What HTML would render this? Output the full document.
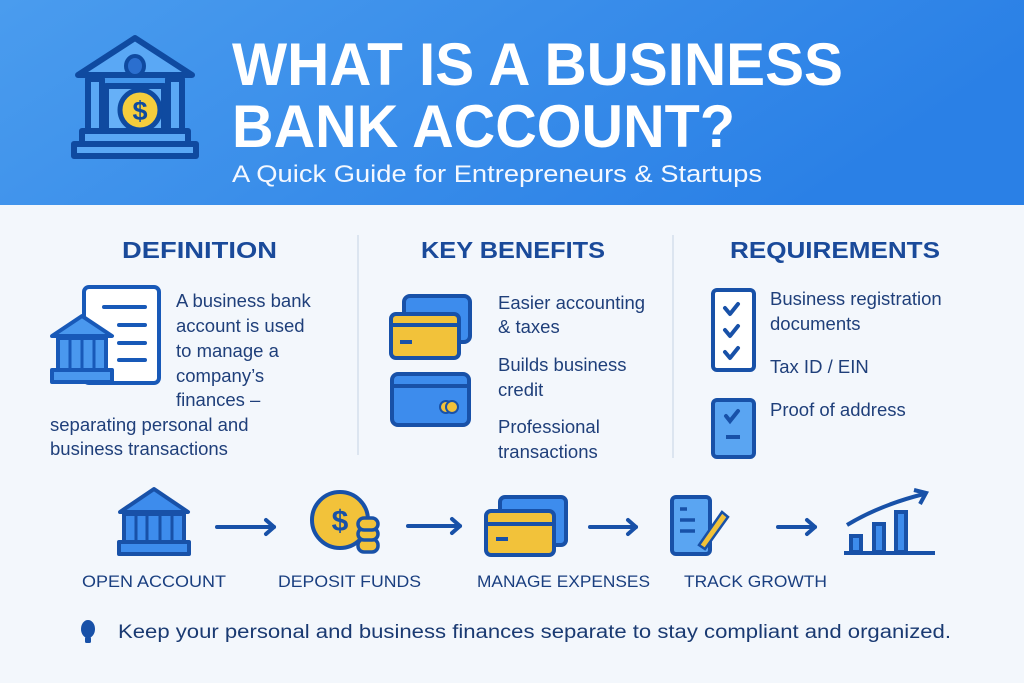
<!DOCTYPE html>
<html><head><meta charset="utf-8"><style>
html,body{margin:0;padding:0;width:1024px;height:683px;overflow:hidden;background:#f3f7fc}
svg{display:block}
text{font-family:"Liberation Sans",sans-serif}
</style></head><body>
<svg width="1024" height="683" viewBox="0 0 1024 683" xmlns="http://www.w3.org/2000/svg">
<defs>
<linearGradient id="hg" x1="0" y1="0" x2="1" y2="0.3">
<stop offset="0" stop-color="#4a9cee"/><stop offset="1" stop-color="#2a80e6"/>
</linearGradient>
</defs>
<rect x="0" y="0" width="1024" height="683" fill="#f3f7fc"/>
<rect x="0" y="0" width="1024" height="205" fill="url(#hg)"/>

<!-- header bank icon -->
<g stroke="#0f4aa0" stroke-width="6" stroke-linejoin="round" fill="#5aa8f5">
<path d="M78 75 L135 38 L192 75 Z"/>
<rect x="88" y="78" width="94" height="0" />
<rect x="88" y="79" width="14" height="52"/>
<rect x="168" y="79" width="14" height="52"/>
<rect x="106" y="86" width="58" height="45" fill="#66b0f7"/>
<rect x="82" y="131" width="106" height="13"/>
<rect x="74" y="144" width="122" height="12"/>
</g>
<ellipse cx="135" cy="66" rx="9" ry="10" fill="#2b6fcf" stroke="#0f4aa0" stroke-width="4"/>
<circle cx="140" cy="110" r="20" fill="#f5cd3c" stroke="#0f4aa0" stroke-width="5"/>
<text x="140" y="120" font-size="27" font-weight="bold" fill="#0f4aa0" text-anchor="middle">$</text>

<text x="232" y="85" font-size="60" font-weight="bold" fill="#fff" textLength="611" lengthAdjust="spacingAndGlyphs">WHAT IS A BUSINESS</text>
<text x="232" y="147" font-size="60" font-weight="bold" fill="#fff" textLength="503" lengthAdjust="spacingAndGlyphs">BANK ACCOUNT?</text>
<text x="232" y="182" font-size="24" fill="#f4f8ff" textLength="530" lengthAdjust="spacingAndGlyphs">A Quick Guide for Entrepreneurs &amp; Startups</text>

<!-- dividers -->
<line x1="358" y1="235" x2="358" y2="455" stroke="#d5dfec" stroke-width="1.5"/>
<line x1="673" y1="235" x2="673" y2="458" stroke="#d5dfec" stroke-width="1.5"/>

<g font-weight="bold" fill="#1a4a9a" font-size="23">
<text x="122" y="258" textLength="155" lengthAdjust="spacingAndGlyphs">DEFINITION</text>
<text x="421" y="258" textLength="184" lengthAdjust="spacingAndGlyphs">KEY BENEFITS</text>
<text x="730" y="258" textLength="210" lengthAdjust="spacingAndGlyphs">REQUIREMENTS</text>
</g>

<!-- definition icon -->
<rect x="84" y="287" width="75" height="96" rx="5" fill="#fff" stroke="#1859b8" stroke-width="4"/>
<g stroke="#1859b8" stroke-width="4" stroke-linecap="round">
<line x1="104" y1="307" x2="145" y2="307"/><line x1="119" y1="325" x2="145" y2="325"/>
<line x1="119" y1="343" x2="145" y2="343"/><line x1="119" y1="360" x2="145" y2="360"/>
</g>
<g stroke="#1859b8" stroke-width="4" stroke-linejoin="round" fill="#4a98ee">
<path d="M52 336 L82 316 L112 336 Z"/>
<rect x="58" y="338" width="48" height="32"/>
<rect x="52" y="370" width="60" height="12"/>
</g>
<g stroke="#1859b8" stroke-width="3"><line x1="70" y1="340" x2="70" y2="368"/><line x1="82" y1="340" x2="82" y2="368"/><line x1="94" y1="340" x2="94" y2="368"/></g>

<g fill="#1f3f7a" font-size="18.5">
<text x="176" y="307">A business bank</text>
<text x="176" y="332">account is used</text>
<text x="176" y="357">to manage a</text>
<text x="176" y="382">company’s</text>
<text x="176" y="406">finances –</text>
<text x="50" y="431">separating personal and</text>
<text x="50" y="455">business transactions</text>

<text x="498" y="309">Easier accounting</text>
<text x="498" y="333">&amp; taxes</text>
<text x="498" y="371">Builds business</text>
<text x="498" y="396">credit</text>
<text x="498" y="433">Professional</text>
<text x="498" y="458">transactions</text>

<text x="770" y="305">Business registration</text>
<text x="770" y="330">documents</text>
<text x="770" y="373">Tax ID / EIN</text>
<text x="770" y="416">Proof of address</text>
</g>

<!-- benefit cards -->
<rect x="404" y="296" width="66" height="46" rx="6" fill="#3d8ced" stroke="#1851a8" stroke-width="4"/>
<rect x="391" y="314" width="68" height="44" rx="5" fill="#f2c23a" stroke="#1851a8" stroke-width="4"/>
<line x1="391" y1="325" x2="459" y2="325" stroke="#1851a8" stroke-width="4"/>
<line x1="400" y1="342" x2="412" y2="342" stroke="#1851a8" stroke-width="4"/>
<rect x="392" y="374" width="77" height="51" rx="6" fill="#3d8ced" stroke="#1851a8" stroke-width="4"/>
<line x1="392" y1="386" x2="469" y2="386" stroke="#1851a8" stroke-width="4"/>
<circle cx="446" cy="407" r="6" fill="#f2c23a" stroke="#1851a8" stroke-width="2"/>
<circle cx="452" cy="407" r="6" fill="#f2c23a" stroke="#1851a8" stroke-width="2"/>

<!-- requirement icons -->
<rect x="713" y="290" width="41" height="80" rx="4" fill="#fff" stroke="#1851a8" stroke-width="4"/>
<g stroke="#1851a8" stroke-width="4" fill="none" stroke-linecap="round" stroke-linejoin="round">
<path d="M725 308 l5 6 l8 -10"/><path d="M725 330 l5 6 l8 -10"/><path d="M725 352 l5 6 l8 -10"/>
</g>
<rect x="713" y="400" width="41" height="57" rx="4" fill="#5aa5f2" stroke="#1851a8" stroke-width="4"/>
<path d="M726 416 l4 5 l8 -10" stroke="#1851a8" stroke-width="4" fill="none" stroke-linecap="round"/>
<line x1="726" y1="437" x2="740" y2="437" stroke="#1851a8" stroke-width="4"/>

<!-- flow icons -->
<g stroke="#1851a8" stroke-width="4" stroke-linejoin="round" fill="#3d8ced">
<path d="M120 512 L154 489 L188 512 Z"/>
<rect x="124" y="514" width="60" height="28"/>
<rect x="119" y="542" width="70" height="12"/>
</g>
<g stroke="#1851a8" stroke-width="3"><line x1="136" y1="516" x2="136" y2="540"/><line x1="147" y1="516" x2="147" y2="540"/><line x1="160" y1="516" x2="160" y2="540"/><line x1="172" y1="516" x2="172" y2="540"/></g>

<circle cx="340" cy="520" r="28" fill="#f2c23a" stroke="#1851a8" stroke-width="4"/>
<text x="340" y="531" font-size="30" font-weight="bold" fill="#1851a8" text-anchor="middle">$</text>
<g fill="#f2c23a" stroke="#1851a8" stroke-width="3.5">
<rect x="358" y="539" width="20" height="13" rx="6"/><rect x="358" y="528" width="20" height="12" rx="6"/><rect x="358" y="518" width="20" height="12" rx="6"/>
</g>

<rect x="500" y="497" width="66" height="48" rx="5" fill="#3d8ced" stroke="#1851a8" stroke-width="4"/>
<rect x="486" y="511" width="68" height="44" rx="5" fill="#f2c23a" stroke="#1851a8" stroke-width="4"/>
<line x1="486" y1="524" x2="554" y2="524" stroke="#1851a8" stroke-width="4"/>
<line x1="496" y1="539" x2="508" y2="539" stroke="#1851a8" stroke-width="4"/>

<rect x="672" y="497" width="38" height="57" rx="4" fill="#5aa5f2" stroke="#1851a8" stroke-width="4"/>
<g stroke="#1851a8" stroke-width="3.5"><line x1="680" y1="509" x2="687" y2="509"/><line x1="680" y1="520" x2="695" y2="520"/><line x1="680" y1="531" x2="695" y2="531"/></g>
<path d="M722 512 L728 517 L705 549 L699 545 Z" fill="#f2c23a" stroke="#1851a8" stroke-width="2.5"/>

<g stroke="#1851a8" stroke-width="4" fill="#3d8ced">
<rect x="851" y="536" width="10" height="16"/><rect x="874" y="524" width="10" height="28"/><rect x="896" y="512" width="10" height="40"/>
</g>
<line x1="844" y1="553" x2="935" y2="553" stroke="#1851a8" stroke-width="4"/>
<path d="M847 525 Q880 505 924 494" stroke="#1851a8" stroke-width="4" fill="none"/>
<path d="M914 490 L926 493 L920 504" stroke="#1851a8" stroke-width="4" fill="none"/>

<!-- arrows -->
<g stroke="#1851a8" stroke-width="4" fill="none" stroke-linecap="round" stroke-linejoin="round">
<line x1="217" y1="527" x2="274" y2="527"/><path d="M266 520 L274 527 L266 534"/>
<line x1="408" y1="526" x2="460" y2="526"/><path d="M452 519 L460 526 L452 533"/>
<line x1="590" y1="527" x2="636" y2="527"/><path d="M628 520 L636 527 L628 534"/>
<line x1="778" y1="527" x2="815" y2="527"/><path d="M807 520 L815 527 L807 534"/>
</g>

<g fill="#1a3f80" font-size="17">
<text x="82" y="587" textLength="144" lengthAdjust="spacingAndGlyphs">OPEN ACCOUNT</text>
<text x="278" y="587" textLength="143" lengthAdjust="spacingAndGlyphs">DEPOSIT FUNDS</text>
<text x="477" y="587" textLength="173" lengthAdjust="spacingAndGlyphs">MANAGE EXPENSES</text>
<text x="684" y="587" textLength="143" lengthAdjust="spacingAndGlyphs">TRACK GROWTH</text>
</g>

<!-- tip -->
<ellipse cx="88" cy="629" rx="7" ry="9" fill="#1851a8"/>
<rect x="85" y="637" width="6" height="6" rx="1.5" fill="#1851a8"/>
<text x="118" y="638" font-size="19" fill="#1a3a72" textLength="833" lengthAdjust="spacingAndGlyphs">Keep your personal and business finances separate to stay compliant and organized.</text>
</svg>
</body></html>
